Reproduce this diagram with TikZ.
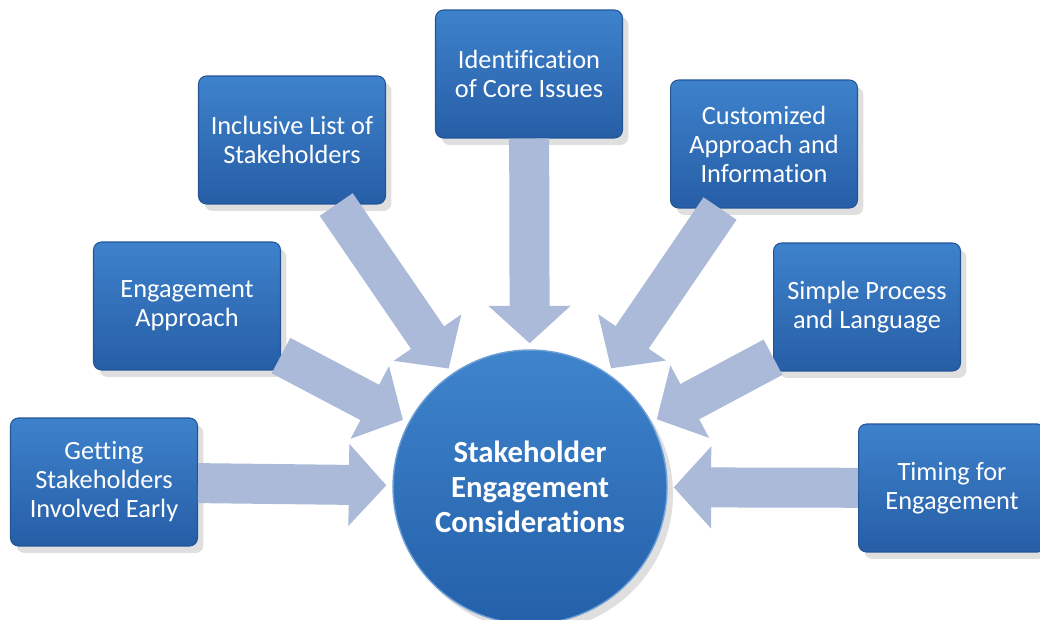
\documentclass[tikz,border=0pt]{standalone}
\usepackage{fontspec}
\setmainfont[Ligatures=NoCommon]{Carlito}
\usetikzlibrary{arrows.meta,shapes,positioning,shadows}
\definecolor{boxblue}{RGB}{62,130,204}
\definecolor{boxbluedark}{RGB}{38,94,166}
\definecolor{edgeblue}{RGB}{34,84,150}
\definecolor{hubtop}{RGB}{62,132,204}
\definecolor{hubbottom}{RGB}{36,96,170}
\definecolor{arrowgray}{RGB}{170,186,216}

\begin{document}
\begin{tikzpicture}[x=0.02cm, y=-0.02cm,
    topic/.style={rectangle, rounded corners=0.16cm, draw=edgeblue, line width=0.6pt,
      top color=boxblue, bottom color=boxbluedark, minimum width=3.74cm, minimum height=2.56cm,
      align=center, text=white, font=\fontsize{15}{16.5}\selectfont,
      drop shadow={opacity=0.25, shadow xshift=0.12cm, shadow yshift=-0.14cm}},
    hub/.style={circle, draw={rgb,255:red,110;green,160;blue,215}, line width=0.8pt,
      top color=hubtop, bottom color=hubbottom, minimum size=5.48cm, align=center,
      text=white, font=\fontsize{17.5}{20}\selectfont\bfseries,
      drop shadow={opacity=0.25, shadow xshift=0.12cm, shadow yshift=-0.14cm}},
    feed/.style={draw=arrowgray, line width=0.8cm, -{Triangle[width=1.6cm,length=0.75cm]},
      shorten >=0.12cm}]
  \useasboundingbox (0,0) rectangle (1040,619);

  % centre
  \node[hub] (core) at (530,487) {Stakeholder\\Engagement\\Considerations};

  % left side
  \node[topic] (early) at (104,482) {Getting\\Stakeholders\\Involved Early};
  \node[topic] (approach) at (187,306) {Engagement\\Approach};
  \node[topic] (inclusive) at (292,140) {Inclusive List of\\Stakeholders};

  % top
  \node[topic] (issues) at (529,74) {Identification\\of Core Issues};

  % right side
  \node[topic] (custom) at (764,144) {Customized\\Approach and\\Information};
  \node[topic] (simple) at (867,307) {Simple Process\\and Language};
  \node[topic] (timing) at (952,488) {Timing for\\Engagement};

  % arrows into the centre
  \draw[feed] (early) -- (core);
  \draw[feed] (approach) -- (core);
  \draw[feed] (inclusive) -- (core);
  \draw[feed] (issues) -- (core);
  \draw[feed] (custom) -- (core);
  \draw[feed] (simple) -- (core);
  \draw[feed] (timing) -- (core);
\end{tikzpicture}
\end{document}
